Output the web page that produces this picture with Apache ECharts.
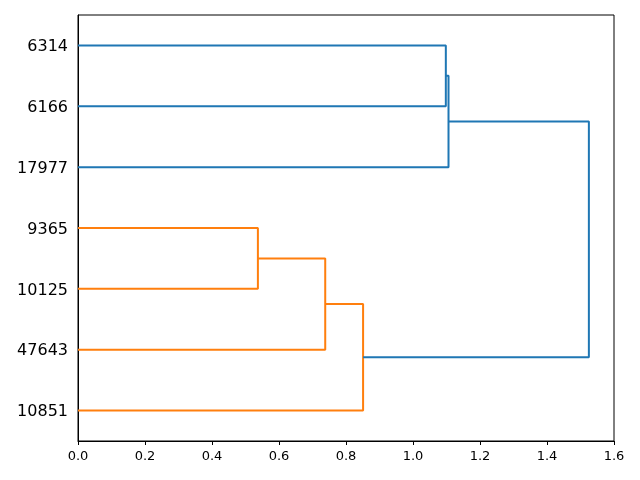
<!DOCTYPE html>
<html>
<head>
<meta charset="utf-8">
<script src="https://cdn.jsdelivr.net/npm/echarts@6/dist/echarts.min.js"></script>
<style>html,body{margin:0;padding:0;background:#fff}#c{width:640px;height:480px}</style>
</head>
<body>
<div id="c"></div>
<script>
// Leaf labels, bottom to top (leaf positions 5,15,25,...)
var leafLabels = ['10851', '47643', '10125', '9365', '17977', '6166', '6314'];
var leafPositions = [5, 15, 25, 35, 45, 55, 65];
var xTicks = [0, 0.2, 0.4, 0.6, 0.8, 1.0, 1.2, 1.4, 1.6];

// Dendrogram links (scipy style): icoord = leaf-axis positions, dcoord = distances
var linkIcoord = [
  [25, 25, 35, 35],
  [15, 15, 30, 30],
  [5, 5, 22.5, 22.5],
  [55, 55, 65, 65],
  [45, 45, 60, 60],
  [13.75, 13.75, 52.5, 52.5]
];
var linkDcoord = [
  [0, 0.537, 0.537, 0],
  [0, 0.738, 0.738, 0.537],
  [0, 0.851, 0.851, 0.738],
  [0, 1.098, 1.098, 0],
  [0, 1.106, 1.106, 1.098],
  [0.851, 1.525, 1.525, 1.106]
];
var linkColors = ['#ff7f0e', '#ff7f0e', '#ff7f0e', '#1f77b4', '#1f77b4', '#1f77b4'];

var series = linkIcoord.map(function (ic, k) {
  var pts = ic.map(function (y, j) { return [linkDcoord[k][j], y]; });
  return {
    type: 'line',
    data: pts,
    showSymbol: false,
    symbol: 'none',
    lineStyle: { color: linkColors[k], width: 2 },
    silent: true
  };
});

var chart = echarts.init(document.getElementById('c'), null, { renderer: 'canvas' });
chart.setOption({
  animation: false,
  backgroundColor: '#fff',
  grid: { left: 78, right: 26, top: 15, bottom: 39, show: true, borderColor: '#000', borderWidth: 1, backgroundColor: 'transparent' },
  xAxis: {
    type: 'value', min: 0, max: 1.6, interval: 0.2,
    axisLine: { show: true, onZero: false, lineStyle: { color: '#000', width: 1 } },
    axisTick: { show: true, length: 4, lineStyle: { color: '#000' } },
    splitLine: { show: false },
    axisLabel: {
      color: '#000', fontFamily: 'DejaVu Sans', fontSize: 13, margin: 9,
      customValues: xTicks,
      formatter: function (v) { return v.toFixed(1); }
    }
  },
  yAxis: {
    type: 'value', min: 0, max: 70,
    axisLine: { show: true, onZero: false, lineStyle: { color: '#000', width: 1 } },
    axisTick: { show: false },
    splitLine: { show: false },
    axisLabel: {
      color: '#000', fontFamily: 'DejaVu Sans', fontSize: 16, margin: 10,
      customValues: leafPositions,
      rich: { a: { fontFamily: 'DejaVu Sans', fontSize: 16, color: '#000', padding: [3, 0, 0, 0] } },
      formatter: function (v) {
        var i = leafPositions.indexOf(v);
        return i >= 0 ? '{a|' + leafLabels[i] + '}' : '';
      }
    }
  },
  series: series
});
</script>
</body>
</html>
